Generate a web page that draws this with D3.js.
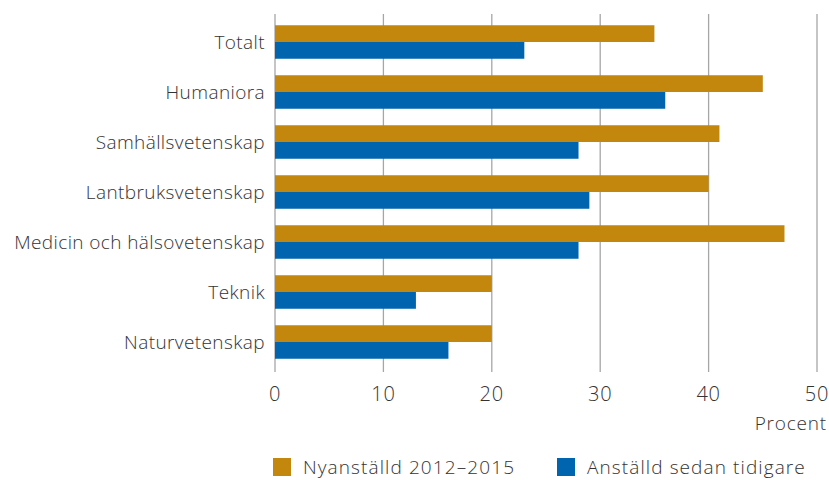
<!DOCTYPE html>
<html lang="sv">
<head>
<meta charset="UTF-8">
<title>Nyanställda per forskningsområde</title>
<script src="https://d3js.org/d3.v7.min.js"></script>
<style>
    body { margin: 0; background: #fff; }
    svg { font-family: 'Open Sans', sans-serif; font-weight: 300; letter-spacing: 0.8px; }
    text { fill: #333; }
</style>
</head>
<body>
<div id="chart"></div>
<script>
// data
var categories = ['Totalt', 'Humaniora', 'Samhällsvetenskap', 'Lantbruksvetenskap',
    'Medicin och hälsovetenskap', 'Teknik', 'Naturvetenskap'];
var seriesNames = ['Nyanställd 2012–2015', 'Anställd sedan tidigare'];
var nyanstalld = [35, 45, 41, 40, 47, 20, 20];
var tidigare = [23, 36, 28, 29, 28, 13, 16];
var xTicks = [0, 10, 20, 30, 40, 50];
var colors = ['#c2870c', '#0064ae'];

var width = 829, height = 480;
var plotLeft = 275, plotRight = 817, plotTop = 17, plotBottom = 367;

var svg = d3.select('#chart').append('svg')
    .attr('width', width)
    .attr('height', height);

var x = d3.scaleLinear().domain([0, 50]).range([plotLeft, plotRight]);
var y = d3.scaleBand().domain(categories).range([plotTop, plotBottom])
    .paddingInner(0.33).paddingOuter(0.165);
var sub = d3.scaleBand().domain([0, 1]).range([0, y.bandwidth()]);

// gridlines
svg.append('g').selectAll('line')
    .data(xTicks)
    .enter().append('line')
    .attr('x1', d => x(d)).attr('x2', d => x(d))
    .attr('y1', 14).attr('y2', 372)
    .attr('stroke', '#a6a6a6')
    .attr('stroke-width', 1.3);

// bars
var rows = categories.map((c, i) => ({ cat: c, vals: [nyanstalld[i], tidigare[i]] }));
var groups = svg.append('g').selectAll('g')
    .data(rows)
    .enter().append('g')
    .attr('transform', d => 'translate(0,' + y(d.cat) + ')');

groups.selectAll('rect')
    .data(d => d.vals)
    .enter().append('rect')
    .attr('x', x(0))
    .attr('y', (d, i) => sub(i))
    .attr('width', d => x(d) - x(0))
    .attr('height', sub.bandwidth())
    .attr('fill', (d, i) => colors[i]);

// category labels
svg.append('g').selectAll('text')
    .data(categories)
    .enter().append('text')
    .attr('x', 265)
    .attr('y', d => y(d) + y.bandwidth() / 2)
    .attr('dy', '0.35em')
    .attr('text-anchor', 'end')
    .style('font-size', '19px')
    .style('letter-spacing', '0.4px')
    .text(d => d);

// x tick labels
svg.append('g').selectAll('text')
    .data(xTicks)
    .enter().append('text')
    .attr('x', d => x(d))
    .attr('y', 394)
    .attr('dy', '0.35em')
    .attr('text-anchor', 'middle')
    .style('font-size', '20px')
    .text(d => d);

svg.append('text')
    .attr('x', 827)
    .attr('y', 423)
    .attr('dy', '0.35em')
    .attr('text-anchor', 'end')
    .style('font-size', '19px')
    .text('Procent');

// legend
var legendX = [273, 557];
var legend = svg.append('g').selectAll('g')
    .data(seriesNames)
    .enter().append('g')
    .attr('transform', (d, i) => 'translate(' + legendX[i] + ',458)');
legend.append('rect')
    .attr('width', 18).attr('height', 18)
    .attr('fill', (d, i) => colors[i]);
legend.append('text')
    .attr('x', 30)
    .attr('y', 9)
    .attr('dy', '0.35em')
    .style('font-size', '19px')
    .style('letter-spacing', '1.1px')
    .text(d => d);
</script>
</body>
</html>
